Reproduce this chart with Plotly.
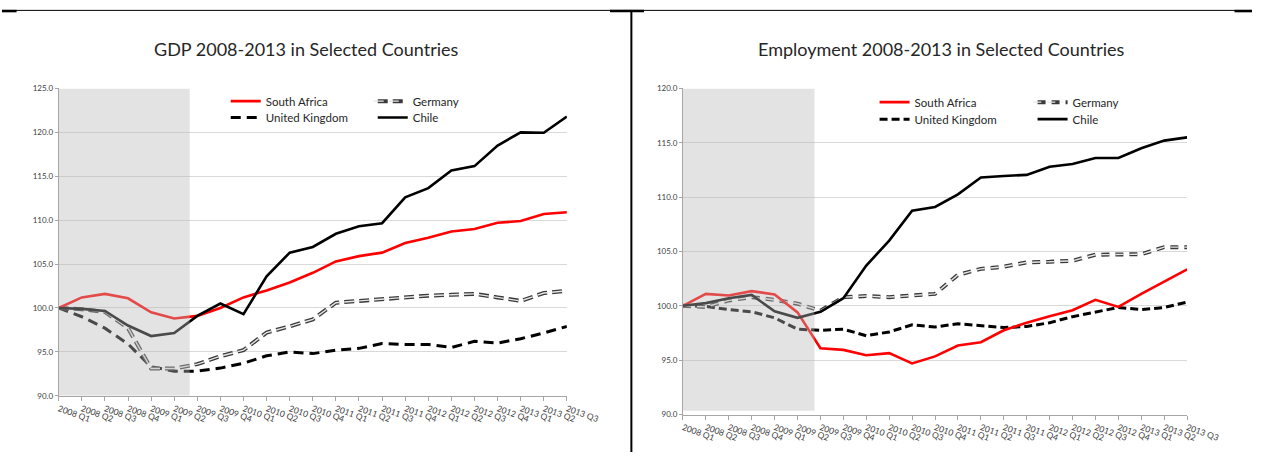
import plotly.graph_objects as go

W, H = 1285, 457

quarters = ["2008 Q1", "2008 Q2", "2008 Q3", "2008 Q4",
            "2009 Q1", "2009 Q2", "2009 Q3", "2009 Q4",
            "2010 Q1", "2010 Q2", "2010 Q3", "2010 Q4",
            "2011 Q1", "2011 Q2", "2011 Q3", "2011 Q4",
            "2012 Q1", "2012 Q2", "2012 Q3", "2012 Q4",
            "2013 Q1", "2013 Q2", "2013 Q3"]

series_names = ["South Africa", "Germany", "United Kingdom", "Chile"]

gdp_sa = [100.0, 101.2, 101.6, 101.1, 99.5, 98.8, 99.1, 100.0, 101.2, 102.0, 102.9, 104.0,
          105.3, 105.9, 106.3, 107.4, 108.0, 108.7, 109.0, 109.7, 109.9, 110.7, 110.9]
gdp_de = [100.0, 99.85, 99.55, 97.7, 93.1, 93.1, 93.6, 94.5, 95.2, 97.2, 97.9, 98.7,
          100.6, 100.8, 101.05, 101.2, 101.4, 101.5, 101.6, 101.2, 100.8, 101.7, 101.95]
gdp_uk = [100.0, 99.0, 97.7, 95.9, 93.3, 92.8, 92.8, 93.15, 93.7, 94.55, 95.0, 94.8,
          95.2, 95.4, 95.95, 95.85, 95.85, 95.5, 96.2, 96.0, 96.5, 97.15, 97.9]
gdp_cl = [100.0, 99.9, 99.65, 98.0, 96.8, 97.15, 99.1, 100.5, 99.3, 103.6, 106.3, 106.95,
          108.45, 109.3, 109.65, 112.6, 113.65, 115.65, 116.15, 118.5, 120.0, 119.95, 121.8]

emp_sa = [100.0, 101.1, 100.95, 101.35, 101.05, 99.4, 96.1, 95.95, 95.45, 95.65, 94.7, 95.35,
          96.35, 96.65, 97.75, 98.45, 99.05, 99.6, 100.55, 99.9, 101.1, 102.2, 103.35]
emp_de = [100.0, 99.9, 100.5, 100.8, 100.55, 100.2, 99.55, 100.8, 100.9, 100.8, 100.95, 101.1,
          102.85, 103.4, 103.6, 104.0, 104.05, 104.15, 104.7, 104.7, 104.75, 105.4, 105.4]
emp_uk = [100.0, 99.95, 99.65, 99.45, 98.9, 97.85, 97.75, 97.85, 97.25, 97.6, 98.25, 98.05,
          98.35, 98.2, 98.0, 98.1, 98.45, 99.0, 99.45, 99.85, 99.65, 99.85, 100.35]
emp_cl = [100.0, 100.25, 100.7, 101.0, 99.5, 98.9, 99.45, 100.7, 103.7, 106.0, 108.75, 109.1,
          110.25, 111.8, 111.95, 112.05, 112.8, 113.05, 113.6, 113.6, 114.5, 115.2, 115.5]

titles = ["GDP 2008-2013 in Selected Countries", "Employment 2008-2013 in Selected Countries"]
y_ranges = [[90, 125], [90, 120]]
recession_end = [5.67, 5.74]     # shaded crisis period, category index
recession_floor = [90.0, 90.35]

FONT = "Lato"
TXT = "#262626"
TICK = "#404040"

fig = go.Figure()

def px_x(p):
    return p / W

def px_y(p):
    return 1 - p / H

# pixel geometry of the two plot areas
areas = [dict(x0=58.3, x1=580.7, y0=85.3, y1=399.5),
         dict(x0=700.0, x1=1218.3, y0=85.3, y1=418.7)]

panels = [
    dict(sa=gdp_sa, de=gdp_de, uk=gdp_uk, cl=gdp_cl, ukdash="10px,6px", dedash="10px,5px"),
    dict(sa=emp_sa, de=emp_de, uk=emp_uk, cl=emp_cl, ukdash="8px,4px", dedash="8px,6px"),
]

legend_pos = [
    dict(c1=230, c2=377, r1=98.3, r2=115.0),
    dict(c1=897, c2=1055, r1=99.3, r2=116.7),
]

layout_extra = {}
legend_no = 1

def new_legend(lx, ly, entry=None, color=TXT):
    global legend_no
    lid = "legend" if legend_no == 1 else f"legend{legend_no}"
    legend_no += 1
    cfg = dict(x=px_x(lx), y=px_y(ly), xanchor="left", yanchor="middle",
               orientation="h", traceorder="normal",
               bgcolor="rgba(0,0,0,0)", borderwidth=0,
               font=dict(family=FONT, size=11.5, color=color),
               itemwidth=30)
    if entry is not None:
        cfg["entrywidth"] = entry
        cfg["entrywidthmode"] = "pixels"
    layout_extra[lid] = cfg
    return lid

for k, p in enumerate(panels):
    xa = "x" if k == 0 else "x2"
    ya = "y" if k == 0 else "y2"
    lp = legend_pos[k]
    ew = lp["c2"] - lp["c1"] - 45
    l_row1 = new_legend(lp["c1"], lp["r1"], entry=ew)
    l_row2 = new_legend(lp["c1"], lp["r2"], entry=ew)
    l_de_inner = new_legend(lp["c2"], lp["r1"], color="rgba(0,0,0,0)")
    # UK
    fig.add_trace(go.Scatter(x=quarters, y=p["uk"], mode="lines", name=series_names[2],
                             line=dict(color="#000000", width=3, dash=p["ukdash"]),
                             xaxis=xa, yaxis=ya, legend=l_row2, legendrank=1))
    # Germany (double line: dark outline + light core)
    fig.add_trace(go.Scatter(x=quarters, y=p["de"], mode="lines", name=series_names[1],
                             line=dict(color="#3a3a3a", width=4, dash=p["dedash"]),
                             xaxis=xa, yaxis=ya, legend=l_row1, legendrank=2))
    fig.add_trace(go.Scatter(x=quarters, y=p["de"], mode="lines", name=" ",
                             line=dict(color="#e6e6e6", width=1.4, dash=p["dedash"]),
                             xaxis=xa, yaxis=ya, legend=l_de_inner))
    # South Africa
    fig.add_trace(go.Scatter(x=quarters, y=p["sa"], mode="lines", name=series_names[0],
                             line=dict(color="#ff0000", width=2.6),
                             xaxis=xa, yaxis=ya, legend=l_row1, legendrank=1))
    # Chile
    fig.add_trace(go.Scatter(x=quarters, y=p["cl"], mode="lines", name=series_names[3],
                             line=dict(color="#000000", width=2.6),
                             xaxis=xa, yaxis=ya, legend=l_row2, legendrank=2))

shapes = []
annotations = []
for k, a in enumerate(areas):
    sfx = "" if k == 0 else "2"
    xkey = "xaxis" + sfx
    ykey = "yaxis" + sfx
    layout_extra[xkey] = dict(
        domain=[px_x(a["x0"]), px_x(a["x1"])],
        anchor="y" + sfx, type="category", range=[0, len(quarters) - 1],
        showgrid=False, showline=True, linecolor="#a6a6a6", linewidth=1,
        ticks="outside", ticklen=4, tickcolor="#a6a6a6", tickangle=20,
        tickfont=dict(family=FONT, size=8.5, color=TICK), fixedrange=True,
    )
    layout_extra[ykey] = dict(
        domain=[px_y(a["y1"]), px_y(a["y0"])],
        anchor="x" + sfx, range=y_ranges[k], dtick=5, tickformat=".1f",
        showgrid=True, gridcolor="#d9d9d9", gridwidth=1,
        showline=True, linecolor="#a6a6a6", linewidth=1,
        ticks="outside", ticklen=3, tickcolor="#a6a6a6",
        tickfont=dict(family=FONT, size=8, color=TICK), zeroline=False, fixedrange=True,
    )
    shapes.append(dict(type="rect", xref="x" + sfx, yref="y" + sfx,
                       x0=0, x1=recession_end[k], y0=recession_floor[k], y1=y_ranges[k][1],
                       fillcolor="rgba(185,185,185,0.4)", line=dict(width=0), layer="above"))
    annotations.append(dict(text=titles[k], xref="paper", yref="paper",
                            x=px_x([313, 966][k]), y=px_y(45), xanchor="center", yanchor="middle",
                            showarrow=False, font=dict(family=FONT, size=18, color=TXT)))

# page frame lines
frame = [
    dict(x0=0, x1=W, y0=5.5, y1=5.5, w=1),
    dict(x0=0, x1=15, y0=6.2, y1=6.2, w=2.5),
    dict(x0=625, x1=660, y0=6.2, y1=6.2, w=2.5),
    dict(x0=1267, x1=W, y0=6.2, y1=6.2, w=2.5),
    dict(x0=647, x1=647, y0=5, y1=H, w=2),
]
for f in frame:
    shapes.append(dict(type="line", xref="paper", yref="paper",
                       x0=px_x(f["x0"]), x1=px_x(f["x1"]), y0=px_y(f["y0"]), y1=px_y(f["y1"]),
                       line=dict(color="#000000", width=f["w"])))

fig.update_layout(
    width=W, height=H, autosize=False,
    margin=dict(l=0, r=0, t=0, b=0),
    paper_bgcolor="white", plot_bgcolor="white",
    shapes=shapes, annotations=annotations,
    font=dict(family=FONT, color=TXT),
    **layout_extra,
)

fig.write_html("out.html", config={"displayModeBar": False})
